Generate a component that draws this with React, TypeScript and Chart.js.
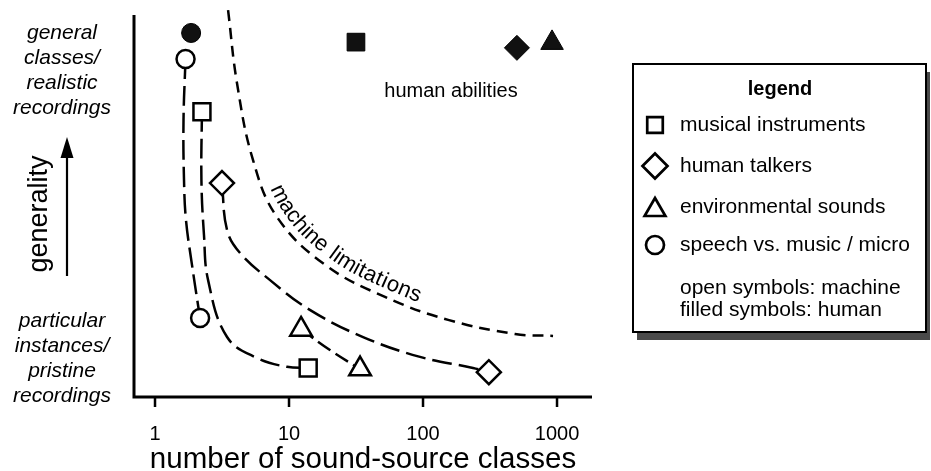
import React, { useEffect, useRef } from 'react';
import { Chart, registerables } from 'chart.js';
import { drawPoint } from 'chart.js/helpers';

Chart.register(...registerables);

const W = 931;
const H = 471;
const FONT = '"Liberation Sans", Arial, Helvetica, sans-serif';

// x: number of sound-source classes, y: generality (0 = particular instances, 10 = general classes)
const instrumentsMachine = [[2.24, 7.47], [13.9, 0.76]];
const instrumentsHuman = [[31.6, 9.29]];
const talkersMachine = [[3.16, 5.6], [310, 0.65]];
const talkersHuman = [[502, 9.14]];
const environmentMachine = [[12.3, 1.77], [33.9, 0.73]];
const environmentHuman = [[918, 9.27]];
const speechMusicMachine = [[1.69, 8.85], [2.17, 2.07]];
const speechMusicHuman = [[1.86, 9.53]];

// hand-drawn trend curves joining the machine results of each class
const instrumentsTrend = [[2.24, 7.47], [2.22, 5.68], [2.32, 4.24], [2.49, 3.06], [3.45, 1.57], [5.77, 1.02], [9.66, 0.79], [13.9, 0.76]];
const talkersTrend = [[3.16, 5.6], [3.45, 4.37], [4.31, 3.77], [7.22, 3.06], [14.3, 2.28], [35.7, 1.57], [95, 1.05], [236, 0.76], [310, 0.65]];
const environmentTrend = [[12.3, 1.77], [20.2, 1.23], [33.9, 0.73]];
const speechMusicTrend = [[1.69, 8.85], [1.632, 7.25], [1.646, 5.68], [1.703, 4.63], [1.888, 3.46], [2.094, 2.41], [2.17, 2.07]];
const machineLimit = [[3.51, 10.13], [4.09, 8.22], [5.39, 6.2], [8.14, 4.71], [18.6, 3.46], [52, 2.62], [154, 2.02], [486, 1.65], [934, 1.6]];

const xRange = [0.697, 1824];
const yRange = [0, 10];
const xTickValues = [1, 10, 100, 1000];
const xTitle = 'number of sound-source classes';
const yTitle = 'generality';
const generalLabel = ['general', 'classes/', 'realistic', 'recordings'];
const particularLabel = ['particular', 'instances/', 'pristine', 'recordings'];
const humanRegionLabel = 'human abilities';
const machineRegionLabel = 'machine limitations';
const legendTitle = 'legend';
const legendLabels = ['musical instruments', 'human talkers', 'environmental sounds', 'speech vs. music / micro'];
const legendNotes = ['open symbols: machine', 'filled symbols: human'];

const classStyles = ['rect', 'rectRot', 'triangle', 'circle'];
const classRadii = [12, 12, 12.5, 9];

type Pair = number[];
const toXY = (arr: Pair[]) => arr.map(([x, y]) => ({ x, y }));

const markerSet = (data: Pair[], cls: number, filled: boolean) => ({
  data: toXY(data),
  showLine: false,
  pointStyle: classStyles[cls],
  pointRadius: classRadii[cls] + (filled ? 0.5 : 0),
  pointBorderWidth: filled ? 1 : 2.5,
  pointBorderColor: '#000',
  pointBackgroundColor: filled ? '#111' : '#fff',
  order: 0,
});

const trendSet = (data: Pair[], dash: number[], extra: any = {}) => ({
  data: toXY(data),
  showLine: true,
  pointRadius: 0,
  borderColor: '#000',
  borderWidth: 2.5,
  borderDash: dash,
  tension: 0.4,
  fill: false,
  order: 1,
  ...extra,
});

function drawTextOnCurve(ctx: CanvasRenderingContext2D, meta: any, str: string, startS: number, offset: number, spacing: number) {
  const pts = meta.data as any[];
  const samples: { x: number; y: number }[] = [];
  for (let i = 0; i < pts.length - 1; i++) {
    const a = pts[i];
    const b = pts[i + 1];
    const c1x = a.cp2x ?? a.x, c1y = a.cp2y ?? a.y;
    const c2x = b.cp1x ?? b.x, c2y = b.cp1y ?? b.y;
    for (let k = 0; k < 40; k++) {
      const t = k / 40, u = 1 - t;
      samples.push({
        x: u * u * u * a.x + 3 * u * u * t * c1x + 3 * u * t * t * c2x + t * t * t * b.x,
        y: u * u * u * a.y + 3 * u * u * t * c1y + 3 * u * t * t * c2y + t * t * t * b.y,
      });
    }
  }
  const last = pts[pts.length - 1];
  samples.push({ x: last.x, y: last.y });
  const cum = [0];
  for (let i = 1; i < samples.length; i++) {
    cum.push(cum[i - 1] + Math.hypot(samples[i].x - samples[i - 1].x, samples[i].y - samples[i - 1].y));
  }
  const at = (s: number) => {
    let i = 0;
    while (i < cum.length - 2 && cum[i + 1] < s) i++;
    const seg = cum[i + 1] - cum[i] || 1;
    const f = Math.min(1, Math.max(0, (s - cum[i]) / seg));
    return {
      x: samples[i].x + (samples[i + 1].x - samples[i].x) * f,
      y: samples[i].y + (samples[i + 1].y - samples[i].y) * f,
    };
  };
  let s = startS;
  for (const ch of str) {
    const w = ctx.measureText(ch).width;
    const p0 = at(s);
    const p1 = at(s + w);
    const len = Math.hypot(p1.x - p0.x, p1.y - p0.y) || 1;
    const tx = (p1.x - p0.x) / len, ty = (p1.y - p0.y) / len;
    const mid = at(s + w / 2);
    ctx.save();
    ctx.translate(mid.x + ty * offset, mid.y - tx * offset);
    ctx.rotate(Math.atan2(ty, tx));
    ctx.textAlign = 'center';
    ctx.textBaseline = 'alphabetic';
    ctx.fillText(ch, 0, 0);
    ctx.restore();
    s += w + spacing;
  }
}

const decorations = {
  id: 'decorations',
  beforeDatasetsDraw(chart: any) {
    const { ctx, chartArea } = chart;
    const { left, right, top, bottom } = chartArea;
    ctx.save();
    ctx.setLineDash([]);
    ctx.strokeStyle = '#000';
    ctx.lineWidth = 3;
    ctx.lineJoin = 'miter';
    ctx.beginPath();
    ctx.moveTo(left, top);
    ctx.lineTo(left, bottom);
    ctx.lineTo(right, bottom);
    ctx.stroke();

    // x ticks and labels
    const xs = chart.scales.x;
    ctx.lineWidth = 2.5;
    ctx.fillStyle = '#000';
    ctx.font = `20px ${FONT}`;
    ctx.textAlign = 'center';
    ctx.textBaseline = 'alphabetic';
    for (const v of xTickValues) {
      const px = xs.getPixelForValue(v);
      ctx.beginPath();
      ctx.moveTo(px, bottom + 1);
      ctx.lineTo(px, bottom + 10);
      ctx.stroke();
      ctx.fillText(String(v), px, bottom + 43);
    }
    ctx.font = `29.5px ${FONT}`;
    ctx.fillText(xTitle, (left + right) / 2, H - 3);

    // left-hand descriptions of the generality axis
    ctx.font = `italic 21px ${FONT}`;
    ctx.textBaseline = 'middle';
    generalLabel.forEach((t, i) => ctx.fillText(t, 62, top + 18 + i * 25));
    particularLabel.forEach((t, i) => ctx.fillText(t, 62, bottom - 76 + i * 25));

    // "generality" with upward arrow
    ctx.save();
    ctx.translate(47, 214);
    ctx.rotate(-Math.PI / 2);
    ctx.font = `27px ${FONT}`;
    ctx.textBaseline = 'alphabetic';
    ctx.fillText(yTitle, 0, 0);
    ctx.restore();
    ctx.lineWidth = 2.2;
    ctx.beginPath();
    ctx.moveTo(67, 276);
    ctx.lineTo(67, 150);
    ctx.stroke();
    ctx.beginPath();
    ctx.moveTo(67, 137);
    ctx.lineTo(60.5, 158);
    ctx.lineTo(73.5, 158);
    ctx.closePath();
    ctx.fill();
    ctx.restore();
  },
  afterDatasetsDraw(chart: any) {
    const { ctx } = chart;
    ctx.save();
    ctx.setLineDash([]);
    ctx.fillStyle = '#000';

    ctx.font = `20px ${FONT}`;
    ctx.textAlign = 'center';
    ctx.textBaseline = 'middle';
    ctx.fillText(humanRegionLabel, 451, 91);

    ctx.font = `22px ${FONT}`;
    const limitMeta = chart.getDatasetMeta(chart.data.datasets.length - 1);
    drawTextOnCurve(ctx, limitMeta, machineRegionLabel, 186, 8, 0.6);

    // legend box with drop shadow
    const bx = 633, by = 64, bw = 293, bh = 268;
    ctx.fillStyle = '#4a4a4a';
    ctx.fillRect(bx + 4, by + 8, bw, bh);
    ctx.fillStyle = '#fff';
    ctx.fillRect(bx, by, bw, bh);
    ctx.strokeStyle = '#000';
    ctx.lineWidth = 2;
    ctx.strokeRect(bx, by, bw, bh);

    ctx.fillStyle = '#000';
    ctx.font = `bold 20px ${FONT}`;
    ctx.textAlign = 'center';
    ctx.fillText(legendTitle, 780, 89);

    const rowY = [125, 166, 207, 245];
    const legendRadii = [11, 12.5, 12, 9];
    ctx.font = `21px ${FONT}`;
    ctx.textAlign = 'left';
    legendLabels.forEach((label, i) => {
      const yOff = classStyles[i] === 'triangle' ? legendRadii[i] / 4 : 0;
      ctx.fillStyle = '#fff';
      ctx.strokeStyle = '#000';
      ctx.lineWidth = 2.7;
      drawPoint(ctx, { pointStyle: classStyles[i] as any, rotation: 0, radius: legendRadii[i], borderWidth: 2.7 }, 655, rowY[i] + yOff);
      ctx.fillStyle = '#000';
      ctx.fillText(label, 680, rowY[i]);
    });
    legendNotes.forEach((note, i) => ctx.fillText(note, 680, 288 + i * 22));
    ctx.restore();
  },
};

export default function App() {
  const ref = useRef<HTMLCanvasElement>(null);
  useEffect(() => {
    if (!ref.current) return;
    const chart = new Chart(ref.current, {
      type: 'line',
      data: {
        datasets: [
          markerSet(instrumentsHuman, 0, true),
          markerSet(talkersHuman, 1, true),
          markerSet(environmentHuman, 2, true),
          markerSet(speechMusicHuman, 3, true),
          markerSet(instrumentsMachine, 0, false),
          markerSet(talkersMachine, 1, false),
          markerSet(environmentMachine, 2, false),
          markerSet(speechMusicMachine, 3, false),
          trendSet(instrumentsTrend, [20, 7]),
          trendSet(talkersTrend, [20, 7]),
          trendSet(environmentTrend, [15, 6]),
          trendSet(speechMusicTrend, [20, 7]),
          trendSet(machineLimit, [11, 7], { clip: false }),
        ] as any,
      },
      options: {
        responsive: false,
        animation: false,
        events: [],
        layout: { padding: { left: 134, top: 15, right: W - 592, bottom: H - 397 } },
        scales: {
          x: { type: 'logarithmic', display: false, min: xRange[0], max: xRange[1], bounds: 'data' },
          y: { type: 'linear', display: false, min: yRange[0], max: yRange[1], bounds: 'data' },
        },
        plugins: { legend: { display: false }, tooltip: { enabled: false } },
      } as any,
      plugins: [decorations],
    });
    return () => chart.destroy();
  }, []);
  return <canvas ref={ref} width={W} height={H} style={{ position: 'absolute', left: 0, top: 0 }} />;
}
